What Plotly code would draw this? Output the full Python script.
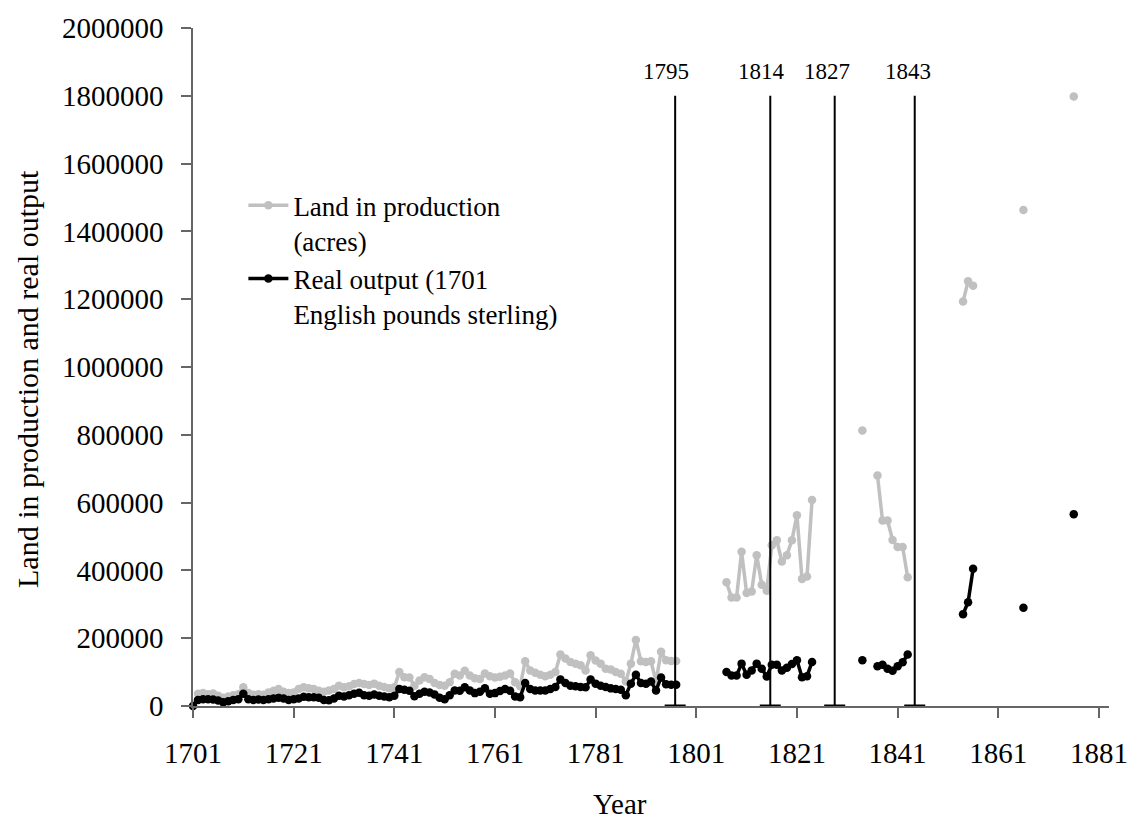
import plotly.graph_objects as go

# ---------------- data ----------------
early_years = list(range(1701, 1798))
early_land = [0, 36000, 38000, 35000, 37000, 30000, 24000, 28000, 32000, 35000,
              55000, 38000, 33000, 35000, 33000, 40000, 45000, 50000, 42000, 38000,
              40000, 50000, 55000, 52000, 50000, 45000, 42000, 46000, 50000, 60000,
              55000, 58000, 65000, 68000, 65000, 62000, 66000, 60000, 56000, 52000,
              55000, 100000, 85000, 84000, 60000, 75000, 85000, 80000, 68000, 62000,
              60000, 70000, 95000, 90000, 104000, 90000, 82000, 80000, 96000, 88000,
              84000, 86000, 90000, 96000, 70000, 58000, 132000, 105000, 98000, 92000,
              88000, 92000, 100000, 152000, 140000, 130000, 125000, 120000, 105000, 150000,
              134000, 125000, 110000, 108000, 100000, 95000, 72000, 125000, 195000, 132000,
              130000, 132000, 72000, 160000, 135000, 133000, 133000]
early_output = [0, 18000, 20000, 20000, 19000, 16000, 11000, 14000, 18000, 20000,
                36000, 20000, 18000, 19000, 18000, 20000, 22000, 24000, 22000, 18000,
                20000, 22000, 27000, 26000, 26000, 24000, 18000, 17000, 22000, 30000,
                28000, 32000, 36000, 39000, 32000, 30000, 34000, 30000, 28000, 26000,
                30000, 50000, 48000, 45000, 29000, 36000, 42000, 40000, 34000, 24000,
                20000, 32000, 46000, 45000, 55000, 46000, 38000, 42000, 52000, 36000,
                38000, 44000, 50000, 45000, 28000, 26000, 68000, 50000, 46000, 46000,
                46000, 50000, 56000, 78000, 68000, 60000, 58000, 56000, 55000, 78000,
                66000, 60000, 56000, 52000, 50000, 48000, 32000, 66000, 92000, 68000,
                66000, 72000, 46000, 84000, 64000, 63000, 63000]

mid_years = list(range(1807, 1825))
mid_land = [365000, 320000, 320000, 455000, 333000, 338000, 445000, 358000, 340000,
            474000, 489000, 426000, 445000, 489000, 563000, 375000, 382000, 608000]
mid_output = [100000, 90000, 90000, 125000, 92000, 105000, 125000, 110000, 87000,
              122000, 122000, 105000, 113000, 124000, 135000, 85000, 88000, 130000]

late_segments_years = [[1834], list(range(1837, 1844)), [1854, 1855, 1856], [1866], [1876]]
late_segments_land = [[813000], [680000, 547000, 547000, 490000, 469000, 469000, 380000],
                      [1193000, 1253000, 1240000], [1463000], [1798000]]
late_segments_output = [[135000], [117000, 122000, 110000, 104000, 117000, 129000, 152000],
                        [271000, 306000, 405000], [290000], [566000]]

event_labels = ["1795", "1814", "1827", "1843"]
event_label_years = [1795, 1814, 1827, 1843]
event_line_x = [1796.8, 1815.7, 1828.5, 1844.4]
event_line_top = 1800000

x_ticks = list(range(1701, 1882, 20))
y_ticks = list(range(0, 2000001, 200000))

# ---------------- assemble segments ----------------
def join(segs_x, segs_y):
    xs, ys = [], []
    for sx, sy in zip(segs_x, segs_y):
        if xs:
            xs.append(None); ys.append(None)
        xs.extend(sx); ys.extend(sy)
    return xs, ys

all_years = [early_years, mid_years] + late_segments_years
lx, ly = join(all_years, [early_land, mid_land] + late_segments_land)
ox, oy = join(all_years, [early_output, mid_output] + late_segments_output)

FONT = "Liberation Serif, Times New Roman, serif"
GRAY = "#c0c0c0"

fig = go.Figure()
fig.add_trace(go.Scatter(x=lx, y=ly, mode="lines+markers", connectgaps=False,
                         name="Land in production<br>(acres)",
                         line=dict(color=GRAY, width=3.5),
                         marker=dict(color=GRAY, size=8.5), cliponaxis=False))
fig.add_trace(go.Scatter(x=ox, y=oy, mode="lines+markers", connectgaps=False,
                         name="Real output (1701<br>English pounds sterling)",
                         line=dict(color="black", width=3.5),
                         marker=dict(color="black", size=8.5), cliponaxis=False))

vx, vy = [], []
for ex in event_line_x:
    vx += [ex, ex, None]
    vy += [0, event_line_top, None]
fig.add_trace(go.Scatter(x=vx, y=vy, mode="lines", showlegend=False,
                         line=dict(color="black", width=2), hoverinfo="skip"))
fig.add_trace(go.Scatter(x=event_line_x, y=[0] * len(event_line_x), mode="markers",
                         showlegend=False, cliponaxis=False, hoverinfo="skip",
                         marker=dict(symbol="line-ew", size=15,
                                     line=dict(color="black", width=3))))

for lab, yr in zip(event_labels, event_label_years):
    fig.add_annotation(x=yr, y=event_line_top, xref="x", yref="y", text=lab,
                       showarrow=False, yanchor="middle", yshift=24,
                       font=dict(family=FONT, size=23, color="black"))

fig.add_annotation(text="Year", xref="paper", yref="paper", x=0.4657, y=-0.145,
                   xanchor="center", yanchor="middle",
                   showarrow=False, font=dict(family=FONT, size=29, color="black"))
fig.add_annotation(text="Land in production and real output", xref="paper", yref="paper",
                   x=-0.18, y=0.4825, xanchor="center", yanchor="middle",
                   textangle=-90, showarrow=False,
                   font=dict(family=FONT, size=30, color="black"))

fig.update_layout(
    width=1140, height=825,
    margin=dict(l=193, r=28, t=20, b=119),
    paper_bgcolor="white", plot_bgcolor="white",
    font=dict(family=FONT, size=29, color="black"),
    showlegend=True,
    legend=dict(x=0.055, y=0.774, xanchor="left", yanchor="top", valign="top",
                bgcolor="rgba(0,0,0,0)", font=dict(family=FONT, size=27),
                itemwidth=40, tracegroupgap=0),
    xaxis=dict(range=[1701, 1883], tickvals=x_ticks, ticktext=[str(v) for v in x_ticks],
               showline=True, linecolor="#666", linewidth=1.5, ticks="outside",
               ticklen=10, tickcolor="#666", tickwidth=1.5, showgrid=False,
               zeroline=False, ticklabelstandoff=10,
               tickfont=dict(family=FONT, size=29)),
    yaxis=dict(range=[0, 2000000], tickvals=y_ticks, tickformat="d",
               showline=True, linecolor="#666", linewidth=1.5, ticks="outside",
               ticklen=10, tickcolor="#666", tickwidth=1.5, showgrid=False,
               zeroline=False, ticklabelstandoff=12,
               tickfont=dict(family=FONT, size=29)),
)

fig.write_html("out.html")
